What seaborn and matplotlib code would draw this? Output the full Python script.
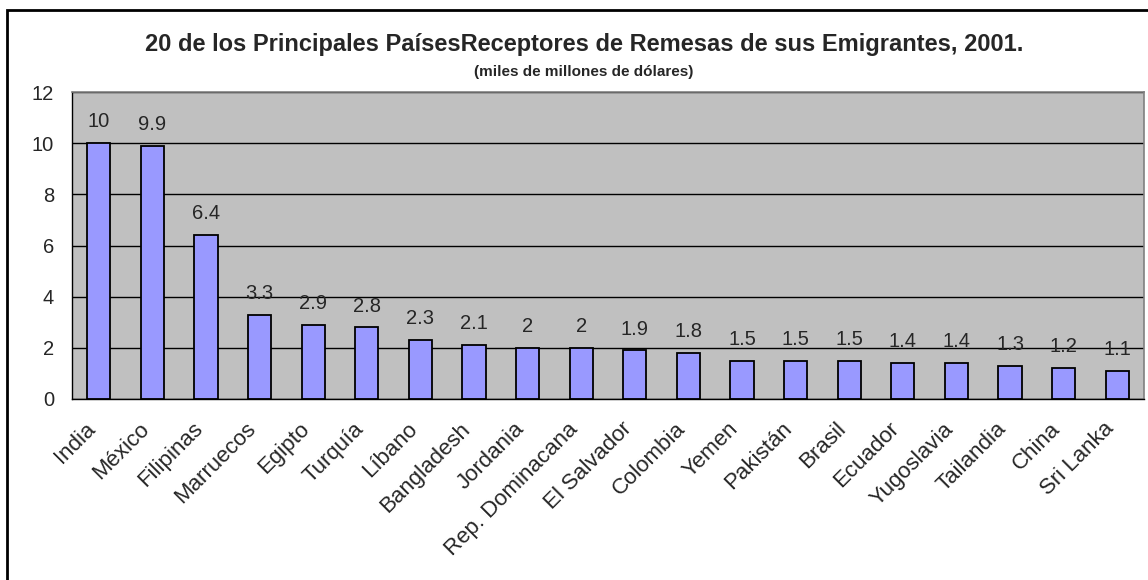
import pandas as pd
import seaborn as sns
import matplotlib.pyplot as plt
import matplotlib.transforms as mtransforms
from matplotlib.patches import Rectangle
from matplotlib.ticker import MultipleLocator, FixedLocator

# Data (billions of US dollars, 2001)
countries = ['India', 'México', 'Filipinas', 'Marruecos', 'Egipto', 'Turquía', 'Líbano',
             'Bangladesh', 'Jordania', 'Rep. Dominacana', 'El Salvador', 'Colombia', 'Yemen',
             'Pakistán', 'Brasil', 'Ecuador', 'Yugoslavia', 'Tailandia', 'China', 'Sri Lanka']
remesas = [10, 9.9, 6.4, 3.3, 2.9, 2.8, 2.3, 2.1, 2, 2, 1.9, 1.8, 1.5, 1.5, 1.5, 1.4, 1.4,
           1.3, 1.2, 1.1]

df = pd.DataFrame({'Pais': countries, 'Remesas': remesas})

sns.set_style('white')
plt.rcParams['font.family'] = ['Liberation Sans', 'DejaVu Sans']

fig = plt.figure(figsize=(11.48, 5.8), dpi=100)
ax = fig.add_axes([72 / 1148, 1 - 399 / 580, 1072 / 1148, 307 / 580])

ax.set_facecolor('#C0C0C0')
ax.set_axisbelow(True)
ax.yaxis.grid(True, color='black', linewidth=1)

sns.barplot(data=df, x='Pais', y='Remesas', color='#9999FF', saturation=1,
            edgecolor='black', linewidth=1.3, width=0.43, ax=ax)

# value labels above the bars
for i, v in enumerate(remesas):
    ax.annotate(f'{v:g}', (i, v), xytext=(0, 8.5), textcoords='offset points',
                ha='center', va='bottom', fontsize=14.5)

ax.set_ylim(0, 12)
ax.set_xlim(-0.5, len(countries) - 0.5)
ax.yaxis.set_major_locator(MultipleLocator(2))
ax.set_xlabel('')
ax.set_ylabel('')

# category ticks at the boundaries, labels at the centres
ax.xaxis.set_minor_locator(FixedLocator([i - 0.5 for i in range(len(countries) + 1)]))
ax.tick_params(axis='x', which='major', length=0, pad=14)
ax.tick_params(axis='x', which='minor', length=6, width=1, color='black', direction='out')
ax.tick_params(axis='y', length=6, width=1, color='black', direction='out', pad=7)
ax.set_xticks(range(len(countries)))
ax.set_xticklabels(countries, rotation=45, ha='right', rotation_mode='anchor', fontsize=16)
shift = mtransforms.ScaledTranslation(-10 / 72, 0, fig.dpi_scale_trans)
for lab in ax.get_xticklabels():
    lab.set_transform(lab.get_transform() + shift)
for lab in ax.get_yticklabels():
    lab.set_fontsize(14.5)

for side in ['top', 'right']:
    ax.spines[side].set_color('#808080')
    ax.spines[side].set_linewidth(1.2)
ax.spines['left'].set_color('black')
ax.spines['bottom'].set_color('black')
ax.spines['left'].set_linewidth(1)
ax.spines['bottom'].set_linewidth(1)

fig.text(584 / 1148, 1 - 44 / 580,
         '20 de los Principales PaísesReceptores de Remesas de sus Emigrantes, 2001.',
         ha='center', va='center', fontsize=17, fontweight='bold')
fig.text(584 / 1148, 1 - 72 / 580, '(miles de millones de dólares)',
         ha='center', va='center', fontsize=11, fontweight='bold')

# outer chart frame
fig.patches.append(Rectangle((7 / 1148, -0.1), 1.2, 1.1 - 10 / 580, transform=fig.transFigure,
                             fill=False, edgecolor='black', linewidth=2))

plt.savefig('out.png', dpi=100)
